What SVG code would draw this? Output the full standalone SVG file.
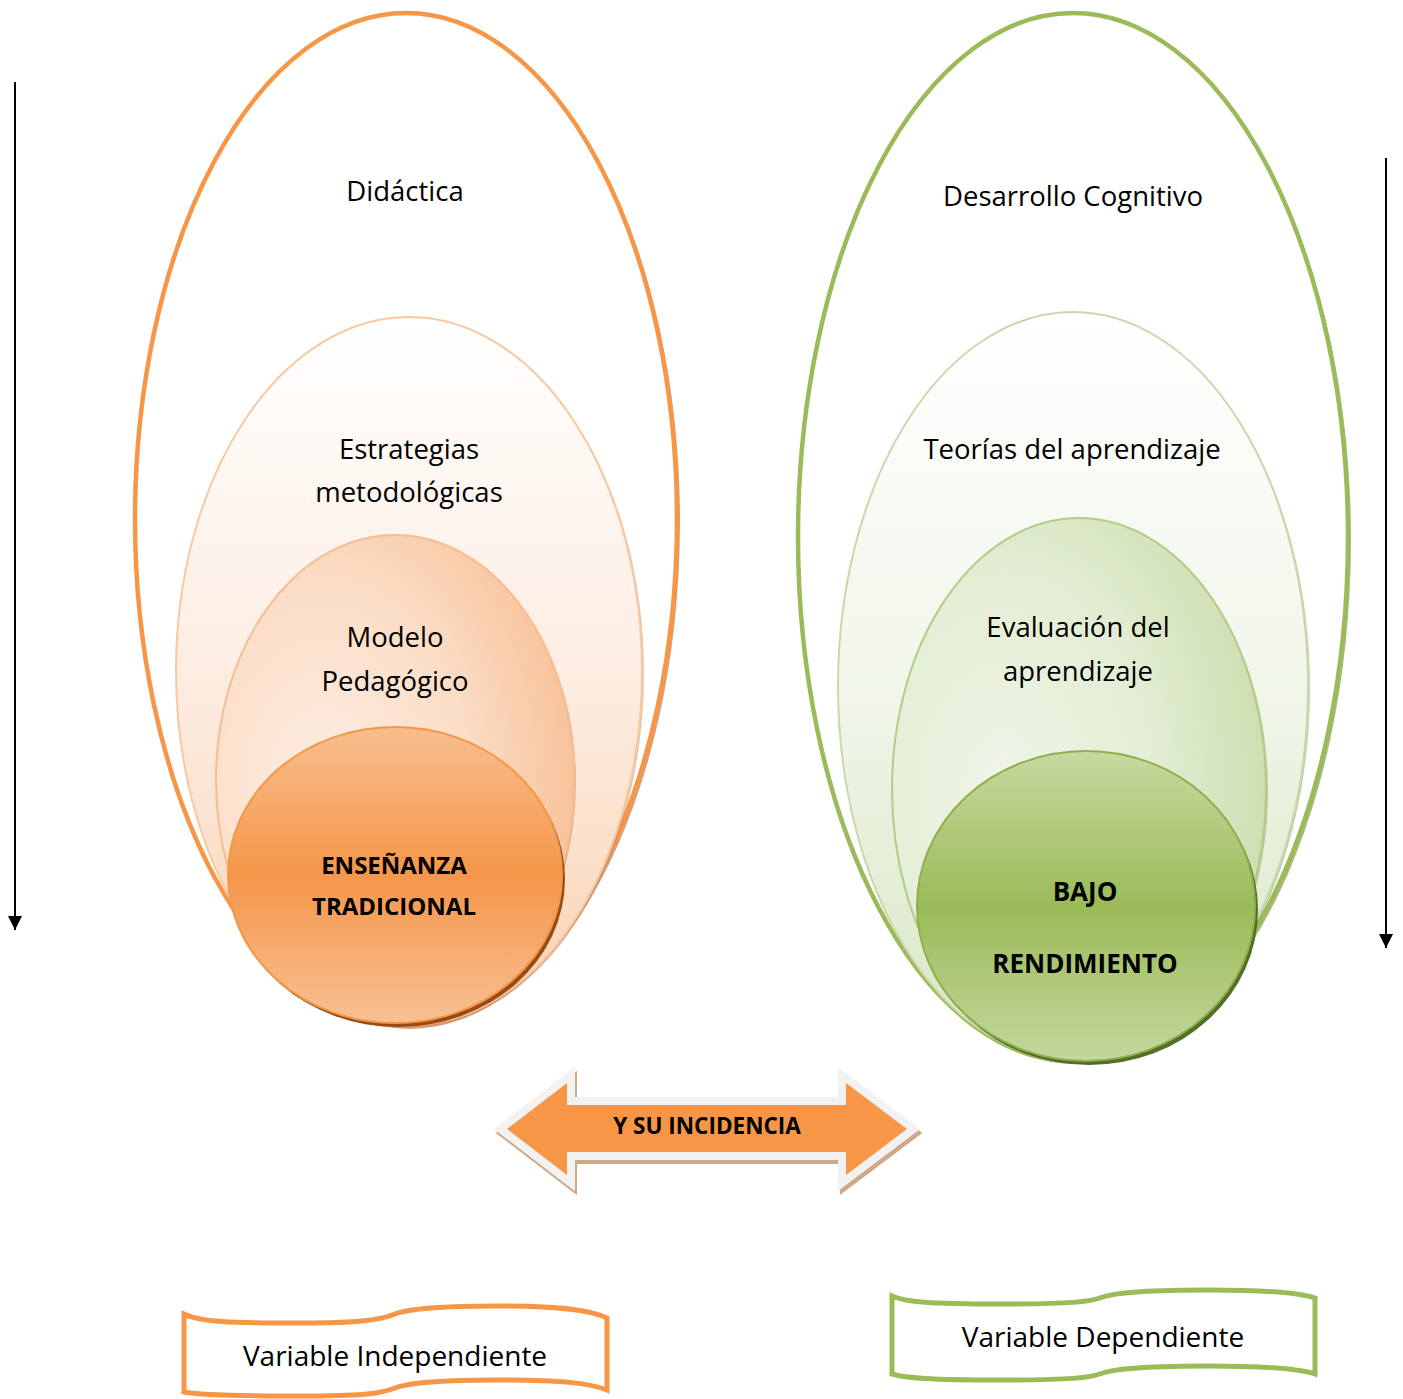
<svg xmlns="http://www.w3.org/2000/svg" width="1403" height="1399" viewBox="0 0 1403 1399">
<defs>
<linearGradient id="gOr2" x1="0" y1="0" x2="0" y2="1">
<stop offset="0" stop-color="#FFFFFF"/><stop offset="0.5" stop-color="#FDEDE2"/><stop offset="1" stop-color="#F9D3B4"/>
</linearGradient>
<radialGradient id="gOr3" cx="0.3" cy="0.5" r="0.8">
<stop offset="0" stop-color="#FDEDE2"/><stop offset="0.5" stop-color="#FBDDC6"/><stop offset="1" stop-color="#F7BA8C"/>
</radialGradient>
<linearGradient id="gOr4" x1="0" y1="0" x2="0" y2="1">
<stop offset="0" stop-color="#F8BE8E"/><stop offset="0.5" stop-color="#F5964A"/><stop offset="1" stop-color="#F8C093"/>
</linearGradient>
<linearGradient id="gGr2" x1="0" y1="0" x2="0" y2="1">
<stop offset="0" stop-color="#FFFFFF"/><stop offset="0.5" stop-color="#F1F6EA"/><stop offset="1" stop-color="#D9E6C4"/>
</linearGradient>
<radialGradient id="gGr3" cx="0.3" cy="0.5" r="0.8">
<stop offset="0" stop-color="#F0F5E8"/><stop offset="0.5" stop-color="#E3EDD4"/><stop offset="1" stop-color="#C8DAA6"/>
</radialGradient>
<linearGradient id="gGr4" x1="0" y1="0" x2="0" y2="1">
<stop offset="0" stop-color="#C6D9A0"/><stop offset="0.5" stop-color="#9BBB59"/><stop offset="1" stop-color="#C4D79D"/>
</linearGradient>
<marker id="ah" viewBox="0 0 10 10" refX="10" refY="5" markerWidth="7" markerHeight="7" markerUnits="strokeWidth" orient="auto">
<path d="M0,0 L10,5 L0,10 Z" fill="#000"/>
</marker>
</defs>
<style>
.t{font-family:"Open Sans","Noto Sans","DejaVu Sans",sans-serif;font-size:27.5px;fill:#000;text-anchor:middle}
.v{font-family:"Open Sans","Noto Sans","DejaVu Sans",sans-serif;font-size:28px;fill:#000;text-anchor:middle}
.b{font-family:"Open Sans","Noto Sans","DejaVu Sans",sans-serif;font-weight:bold;fill:#000;text-anchor:middle}
.oo{fill:#FFFFFF;stroke:#F79646;stroke-width:4.5}
.go{fill:#FFFFFF;stroke:#9BBB59;stroke-width:4.5}
.conn{stroke:#000;stroke-width:2;fill:none}
</style>
<rect width="1403" height="1399" fill="#FFFFFF"/>

<g id="didactica">
<ellipse cx="409" cy="522" rx="271" ry="507" fill="#B8612A" opacity="0.6"/>
<ellipse class="oo" cx="406" cy="519" rx="271" ry="506"/>
<text class="t" x="405" y="201">Didáctica</text>
</g>
<g id="estrategias">
<ellipse cx="411" cy="673" rx="233" ry="354" fill="#C9895A" opacity="0.5"/>
<ellipse cx="409" cy="671" rx="233" ry="354" fill="url(#gOr2)" stroke="#F9C8A1" stroke-width="2"/>
<text class="t" x="409" y="459">Estrategias</text>
<text class="t" x="409" y="502">metodológicas</text>
</g>
<g id="modelo">
<ellipse cx="397" cy="782" rx="179" ry="245" fill="#C9895A" opacity="0.5"/>
<ellipse cx="395" cy="780" rx="179" ry="245" fill="url(#gOr3)" stroke="#F6BD92" stroke-width="2"/>
<text class="t" x="395" y="647">Modelo</text>
<text class="t" x="395" y="691">Pedagógico</text>
</g>
<g id="ensenanza">
<ellipse cx="398" cy="879" rx="167" ry="148" fill="#9A4A14"/>
<ellipse cx="395" cy="875" rx="167" ry="148" fill="url(#gOr4)" stroke="#F29848" stroke-width="2"/>
<text class="b" x="394" y="874" font-size="24">ENSEÑANZA</text>
<text class="b" x="394" y="915" font-size="24">TRADICIONAL</text>
</g>

<g id="desarrollo">
<ellipse cx="1076" cy="540" rx="275" ry="524" fill="#6E8E33" opacity="0.6"/>
<ellipse class="go" cx="1073" cy="537" rx="275" ry="524"/>
<text class="t" x="1073" y="206">Desarrollo Cognitivo</text>
</g>
<g id="teorias">
<ellipse cx="1075" cy="688" rx="235" ry="374" fill="#8AA25E" opacity="0.5"/>
<ellipse cx="1073" cy="686" rx="235" ry="374" fill="url(#gGr2)" stroke="#C8D9AA" stroke-width="2"/>
<text class="t" x="1072" y="459">Teorías del aprendizaje</text>
</g>
<g id="evaluacion">
<ellipse cx="1081" cy="791" rx="187" ry="271" fill="#8AA25E" opacity="0.5"/>
<ellipse cx="1079" cy="789" rx="187" ry="271" fill="url(#gGr3)" stroke="#B4CC88" stroke-width="2"/>
<text class="t" x="1078" y="637">Evaluación del</text>
<text class="t" x="1078" y="681">aprendizaje</text>
</g>
<g id="bajo">
<ellipse cx="1089" cy="910" rx="169" ry="155" fill="#536E26"/>
<ellipse cx="1086" cy="906" rx="169" ry="155" fill="url(#gGr4)" stroke="#8EB04C" stroke-width="2"/>
<text class="b" x="1085" y="901" font-size="26">BAJO</text>
<text class="b" x="1085" y="973" font-size="26">RENDIMIENTO</text>
</g>

<g id="incidencia">
<polygon points="507,1129 567,1083 567,1105 846,1105 846,1083 907,1129 846,1175 846,1152 567,1152 567,1175" transform="translate(2,4)" fill="#C9A07E" stroke="#CFA888" stroke-width="16" stroke-linejoin="miter" paint-order="stroke"/>
<polygon points="507,1129 567,1083 567,1105 846,1105 846,1083 907,1129 846,1175 846,1152 567,1152 567,1175" fill="#F79646" stroke="#F2F2F2" stroke-width="16" stroke-linejoin="miter" paint-order="stroke"/>
<text class="b" x="707" y="1134" font-size="22.5">Y SU INCIDENCIA</text>
</g>

<g id="var-independiente">
<path d="M184,1314 C200,1322 230,1323 300,1323 C360,1323 380,1320 395,1314 C410,1308 450,1306 500,1306 C560,1306 590,1310 607,1318 L607,1390 C590,1383 560,1380 500,1380 C450,1380 410,1382 395,1388 C380,1394 360,1396 300,1396 C230,1396 200,1395 184,1392 Z" fill="#FFFFFF" stroke="#F79646" stroke-width="5"/>
<text class="v" x="395" y="1366">Variable Independiente</text>
</g>
<g id="var-dependiente">
<path d="M892,1296 C905,1302 930,1304 1000,1304 C1070,1304 1090,1302 1103,1297 C1118,1292 1160,1290 1210,1290 C1270,1290 1300,1293 1315,1298 L1315,1374 C1300,1369 1270,1366 1210,1366 C1160,1366 1118,1368 1103,1373 C1090,1378 1070,1380 1000,1380 C930,1380 905,1378 892,1374 Z" fill="#FFFFFF" stroke="#9BBB59" stroke-width="5"/>
<text class="v" x="1103" y="1347">Variable Dependiente</text>
</g>

<g id="connectors">
<line class="conn" x1="15" y1="82" x2="15" y2="930" marker-end="url(#ah)"/>
<line class="conn" x1="1386" y1="158" x2="1386" y2="948" marker-end="url(#ah)"/>
</g>
</svg>
